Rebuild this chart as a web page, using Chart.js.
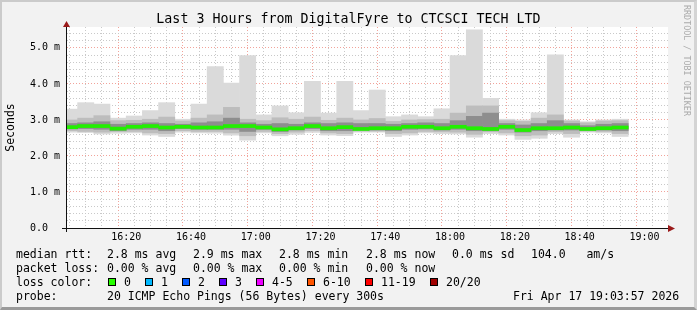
<!DOCTYPE html>
<html lang="en">
<head>
  <meta charset="UTF-8">
  <title>Last 3 Hours from DigitalFyre to CTCSCI TECH LTD</title>

  <script src="https://cdn.jsdelivr.net/npm/chart.js"></script>

  <style>
    body { margin: 0; background: #f2f2f2; }
    #wrap { position: relative; width: 697px; height: 310px; overflow: hidden; font-family: 'DejaVu Sans Mono', monospace; }
    #chart { position: absolute; left: 0; top: 0; }
    #frame {
      position: absolute; left: 0; top: 0; right: 0; bottom: 0; pointer-events: none;
      border-top: 2px solid #cbcbcb; border-left: 2px solid #cbcbcb;
      border-right: 3px solid #d4d4d4; border-bottom: 3px solid #9a9a9a;
    }
    #title { position: absolute; left: 0; top: 11px; width: 697px; text-align: center; font-size: 13.3px; line-height: 16px; color: #000; white-space: pre; }
    .t { position: absolute; font-size: 11.5px; line-height: 14px; white-space: pre; color: #000; }
    .sw { position: absolute; top: 278px; width: 8px; height: 8px; box-sizing: border-box; border: 1px solid #000; }
    #mark { position: absolute; left: 682px; top: 5px; writing-mode: vertical-rl; font-size: 8.4px; color: #ababab; white-space: pre; }
  </style>
</head>
<body>
  <div id="wrap">
    <canvas id="chart" width="697" height="310"></canvas>

    <div id="title">Last 3 Hours from DigitalFyre to CTCSCI TECH LTD</div>
    <div id="mark">RRDTOOL / TOBI OETIKER</div>

    <div class="t" style="left:16px;top:247px">median rtt:</div>
    <div class="t" style="left:107px;top:247px">2.8 ms avg</div>
    <div class="t" style="left:193px;top:247px">2.9 ms max</div>
    <div class="t" style="left:279px;top:247px">2.8 ms min</div>
    <div class="t" style="left:366px;top:247px">2.8 ms now</div>
    <div class="t" style="left:452px;top:247px">0.0 ms sd</div>
    <div class="t" style="left:531px;top:247px">104.0   am/s</div>

    <div class="t" style="left:16px;top:261px">packet loss:</div>
    <div class="t" style="left:107px;top:261px">0.00 % avg</div>
    <div class="t" style="left:193px;top:261px">0.00 % max</div>
    <div class="t" style="left:279px;top:261px">0.00 % min</div>
    <div class="t" style="left:366px;top:261px">0.00 % now</div>

    <div class="t" style="left:16px;top:275px">loss color:</div>
    <div id="lossLegend"></div>

    <div class="t" style="left:16px;top:289px">probe:</div>
    <div class="t" style="left:107px;top:289px">20 ICMP Echo Pings (56 Bytes) every 300s</div>
    <div class="t" style="left:513px;top:289px">Fri Apr 17 19:03:57 2026</div>

    <div id="frame"></div>
  </div>

  <script>
    // 5 minute slots (start time), values in ms
    const times = ['16:00', '16:05', '16:10', '16:15', '16:20', '16:25', '16:30', '16:35', '16:40', '16:45',
                   '16:50', '16:55', '17:00', '17:05', '17:10', '17:15', '17:20', '17:25', '17:30', '17:35',
                   '17:40', '17:45', '17:50', '17:55', '18:00', '18:05', '18:10', '18:15', '18:20', '18:25',
                   '18:30', '18:35', '18:40', '18:45', '18:50'];
    const rttMax =    [3.30, 3.48, 3.44, 3.05, 3.11, 3.26, 3.48, 3.02, 3.44, 4.48,
                       4.02, 4.79, 3.14, 3.39, 3.20, 4.07, 3.19, 4.07, 3.26, 3.83,
                       3.09, 3.14, 3.09, 3.31, 4.79, 5.50, 3.60, 3.02, 3.00, 3.20,
                       4.81, 3.00, 2.95, 3.00, 3.02];
    const rttHigh =   [3.00, 3.05, 3.12, 2.98, 2.99, 3.02, 3.08, 2.97, 3.05, 3.14,
                       3.35, 3.02, 2.98, 3.06, 3.02, 3.08, 2.99, 3.05, 3.00, 3.04,
                       2.96, 3.00, 3.01, 3.02, 3.19, 3.39, 3.39, 2.98, 2.96, 3.05,
                       3.14, 2.97, 2.92, 2.97, 2.98];
    const rttCoreHigh=[2.90, 2.92, 2.95, 2.88, 2.90, 2.92, 2.90, 2.88, 2.92, 2.95,
                       3.05, 2.92, 2.88, 2.90, 2.88, 2.92, 2.90, 2.92, 2.90, 2.90,
                       2.88, 2.90, 2.92, 2.90, 2.98, 3.10, 3.19, 2.90, 2.86, 2.90,
                       2.98, 2.90, 2.84, 2.88, 2.90];
    const rttMedian = [2.80, 2.83, 2.83, 2.76, 2.81, 2.83, 2.79, 2.81, 2.79, 2.79,
                       2.83, 2.83, 2.79, 2.74, 2.77, 2.83, 2.77, 2.80, 2.75, 2.77,
                       2.77, 2.81, 2.81, 2.77, 2.81, 2.77, 2.75, 2.81, 2.72, 2.77,
                       2.77, 2.79, 2.75, 2.77, 2.79];
    const rttCoreLow =[2.75, 2.76, 2.74, 2.70, 2.74, 2.74, 2.70, 2.76, 2.74, 2.74,
                       2.74, 2.68, 2.74, 2.68, 2.72, 2.76, 2.70, 2.70, 2.72, 2.72,
                       2.70, 2.74, 2.75, 2.72, 2.74, 2.70, 2.70, 2.74, 2.66, 2.70,
                       2.72, 2.72, 2.71, 2.72, 2.70];
    const rttLow =    [2.70, 2.68, 2.66, 2.68, 2.68, 2.64, 2.62, 2.70, 2.68, 2.68,
                       2.64, 2.56, 2.68, 2.62, 2.66, 2.70, 2.64, 2.62, 2.69, 2.69,
                       2.62, 2.64, 2.68, 2.67, 2.66, 2.60, 2.67, 2.64, 2.56, 2.58,
                       2.67, 2.62, 2.69, 2.68, 2.62];
    const rttMin =    [2.66, 2.65, 2.61, 2.63, 2.64, 2.58, 2.54, 2.66, 2.64, 2.63,
                       2.58, 2.44, 2.64, 2.56, 2.60, 2.65, 2.58, 2.56, 2.66, 2.66,
                       2.54, 2.58, 2.64, 2.62, 2.61, 2.52, 2.62, 2.58, 2.46, 2.49,
                       2.62, 2.52, 2.66, 2.64, 2.54];
    const xTickLabels = ['16:20', '16:40', '17:00', '17:20', '17:40', '18:00', '18:20', '18:40', '19:00'];
    const lossLabels = ['0', '1', '2', '3', '4-5', '6-10', '11-19', '20/20'];
    const lossColors = ['#26ff00', '#00b8ff', '#0059ff', '#5e00ff', '#ed00ff', '#ff5500', '#ff0000', '#a00000'];

    const mono = 'DejaVu Sans Mono, monospace';
    const toMin = s => { const p = s.split(':').map(Number); return (p[0] - 16) * 60 + p[1]; };
    const band = (lo, hi) => times.map((t, i) => ({ x: toMin(t) + 2.5, y: [lo[i], hi[i]] }));
    const medianBand = times.map((t, i) => ({ x: toMin(t) + 2.5, y: [rttMedian[i] - 0.042, rttMedian[i] + 0.042] }));
    const isMajorY = v => Math.abs(v - Math.round(v)) < 1e-6;

    // loss colour legend
    const lossX = [108, 145, 182, 219, 256, 307, 365, 430];
    const lossLegend = document.getElementById('lossLegend');
    lossLabels.forEach((lbl, i) => {
      const sw = document.createElement('div');
      sw.className = 'sw';
      sw.style.left = lossX[i] + 'px';
      sw.style.background = lossColors[i];
      lossLegend.appendChild(sw);
      const tx = document.createElement('div');
      tx.className = 't';
      tx.style.left = (lossX[i] + 16) + 'px';
      tx.style.top = '275px';
      tx.textContent = lbl;
      lossLegend.appendChild(tx);
    });

    const axisPlugin = {
      id: 'axisPlugin',
      beforeDraw(chart) {
        const { ctx, chartArea: a } = chart;
        ctx.save();
        ctx.fillStyle = '#ffffff';
        ctx.fillRect(a.left, a.top, a.right - a.left, a.bottom - a.top);
        ctx.restore();
      },
      afterDraw(chart) {
        const { ctx, chartArea: a } = chart;
        ctx.save();
        ctx.strokeStyle = '#111';
        ctx.lineWidth = 1;
        ctx.beginPath();
        ctx.moveTo(a.left - 5, a.bottom + 0.5);
        ctx.lineTo(a.right + 2, a.bottom + 0.5);
        ctx.moveTo(a.left - 0.5, a.bottom + 4);
        ctx.lineTo(a.left - 0.5, a.top - 1);
        ctx.stroke();
        ctx.fillStyle = '#9b1b1b';
        ctx.beginPath();
        ctx.moveTo(a.right, a.bottom - 3);
        ctx.lineTo(a.right + 7, a.bottom + 0.5);
        ctx.lineTo(a.right, a.bottom + 4);
        ctx.closePath();
        ctx.fill();
        ctx.beginPath();
        ctx.moveTo(a.left - 4, a.top);
        ctx.lineTo(a.left - 0.5, a.top - 6);
        ctx.lineTo(a.left + 3, a.top);
        ctx.closePath();
        ctx.fill();
        ctx.restore();
      }
    };

    const barStyle = { borderWidth: 0, grouped: false, barPercentage: 1, categoryPercentage: 1 };

    new Chart(document.getElementById('chart'), {
      type: 'bar',
      data: {
        datasets: [
          { label: 'median', data: medianBand, backgroundColor: '#22f000', order: 0, ...barStyle },
          { label: 'core', data: band(rttCoreLow, rttCoreHigh), backgroundColor: '#8e8e8e', order: 1, ...barStyle },
          { label: 'inner', data: band(rttLow, rttHigh), backgroundColor: '#bdbdbd', order: 2, ...barStyle },
          { label: 'range', data: band(rttMin, rttMax), backgroundColor: '#dadada', order: 3, ...barStyle }
        ]
      },
      options: {
        responsive: false,
        animation: false,
        layout: { padding: { left: 0, right: 29, top: 27, bottom: 62 } },
        plugins: {
          legend: { display: false },
          tooltip: { enabled: false },
          title: { display: false }
        },
        scales: {
          x: {
            type: 'linear',
            min: 4.3,
            max: 184.7,
            afterBuildTicks: s => {
              const ticks = [];
              for (let v = 5; v <= s.max; v += 5) ticks.push({ value: v });
              s.ticks = ticks;
            },
            afterFit: s => { s.height = 20; },
            ticks: {
              autoSkip: false,
              maxRotation: 0,
              padding: 3,
              color: '#000',
              font: { family: mono, size: 10 },
              callback: v => (v % 20 === 0 ? xTickLabels[v / 20 - 1] || '' : '')
            },
            grid: {
              drawTicks: false,
              lineWidth: 1,
              color: c => (c.tick && c.tick.value % 20 === 0 ? '#f2a39a' : '#c9c9c9')
            },
            border: { display: false, dash: [1, 2] }
          },
          y: {
            min: 0,
            max: 5.58,
            afterBuildTicks: s => {
              const ticks = [];
              for (let i = 0; i * 0.2 <= s.max; i++) ticks.push({ value: Math.round(i * 2) / 10 });
              s.ticks = ticks;
            },
            afterFit: s => { s.width = 67; },
            ticks: {
              autoSkip: false,
              padding: 7,
              color: '#000',
              font: { family: mono, size: 10 },
              callback: v => (isMajorY(v) ? (v === 0 ? '0.0  ' : v.toFixed(1) + ' m') : '')
            },
            grid: {
              drawTicks: false,
              lineWidth: 1,
              color: c => (c.tick && isMajorY(c.tick.value) ? '#f2a39a' : '#c9c9c9')
            },
            border: { display: false, dash: [1, 2] },
            title: {
              display: true,
              text: 'Seconds',
              color: '#000',
              font: { family: mono, size: 11.5, lineHeight: 1.2 },
              padding: { top: 4, bottom: 0 }
            }
          }
        }
      },
      plugins: [axisPlugin]
    });
  </script>
</body>
</html>
